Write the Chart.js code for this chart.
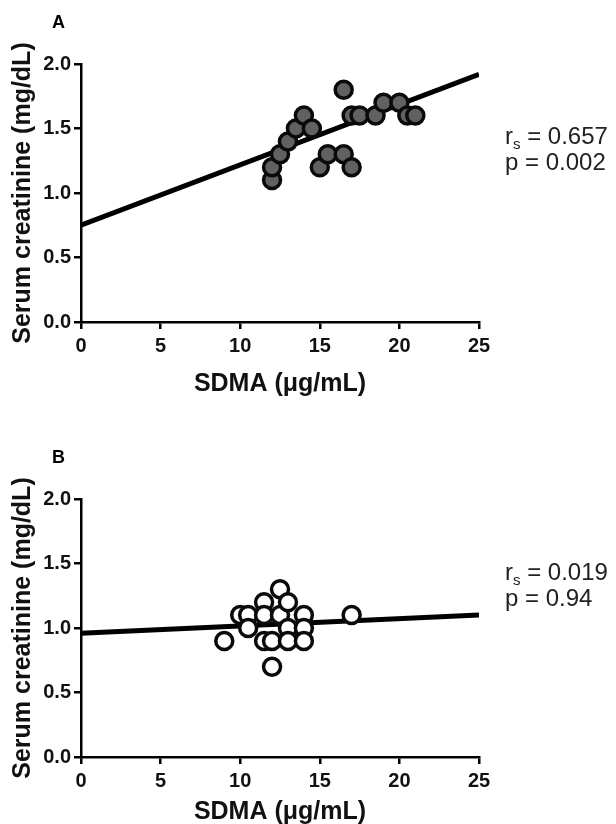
<!DOCTYPE html>
<html>
<head>
<meta charset="utf-8">
<script src="https://cdn.jsdelivr.net/npm/chart.js@4.4.0/dist/chart.umd.min.js"></script>
<style>
  body {
    margin: 0;
    background: #fff;
    width: 616px;
    height: 824px;
    position: relative;
    overflow: hidden;
    font-family: "Liberation Sans", Arial, sans-serif;
  }
  canvas { position: absolute; left: 0; }
  #chartA { top: 0; }
  #chartB { top: 412px; }
  .panel { position: absolute; left: 52px; font-size: 18px; line-height: 18px; font-weight: bold; }
  .stat { position: absolute; left: 505px; font-size: 24px; line-height: 24px; white-space: nowrap; color: #222; }
  .stat sub { font-size: 15px; line-height: 0; vertical-align: -5px; }
</style>
</head>
<body>
<canvas id="chartA" width="616" height="412"></canvas>
<canvas id="chartB" width="616" height="424"></canvas>

<div class="panel" style="top:13px">A</div>
<div class="panel" style="top:448px">B</div>

<div class="stat" style="top:124px">r<sub>s</sub> = 0.657</div>
<div class="stat" style="top:150px">p = 0.002</div>
<div class="stat" style="top:560px">r<sub>s</sub> = 0.019</div>
<div class="stat" style="top:586px">p = 0.94</div>

<script>
// panel A
const sdmaA = [12, 12, 12.5, 13, 13.5, 14, 14.5, 15, 15.5, 16.5, 16.5, 17, 17, 17.5, 18.5, 19, 20, 20.5, 21];
const creatA = [1.1, 1.2, 1.3, 1.4, 1.5, 1.6, 1.5, 1.2, 1.3, 1.3, 1.8, 1.2, 1.6, 1.6, 1.6, 1.7, 1.7, 1.6, 1.6];
const fitA = [0.75, 1.92];

// panel B
const sdmaB = [9, 10, 10.5, 10.5, 11.5, 11.5, 11.5, 12, 12, 12.5, 12.5, 13, 13, 13, 14, 14, 14, 17];
const creatB = [0.9, 1.1, 1.1, 1.0, 1.2, 1.1, 0.9, 0.9, 0.7, 1.3, 1.1, 1.2, 1.0, 0.9, 1.1, 1.0, 0.9, 1.1];
const fitB = [0.96, 1.10];

// regression line end points and tick labels
const fitX = [0, 25];
const xTickStep = 5;
const yTickStep = 0.5;

const fontFamily = '"Liberation Sans", Arial, sans-serif';

function makePlot(id, xs, ys, fit, fill, topPad, bottomPad, xHeight) {
  const points = xs.map((x, i) => ({ x: x, y: ys[i] }));
  const line = fitX.map((x, i) => ({ x: x, y: fit[i] }));

  return new Chart(document.getElementById(id), {
    type: "scatter",
    data: {
      datasets: [
        {
          data: points,
          pointRadius: 8.5,
          pointBackgroundColor: fill,
          pointBorderColor: "#0a0a0a",
          pointBorderWidth: 3.5,
          order: 0,
        },
        {
          type: "line",
          data: line,
          borderColor: "#000",
          borderWidth: 5,
          pointRadius: 0,
          order: 1,
        },
      ],
    },
    options: {
      responsive: false,
      animation: false,
      devicePixelRatio: 1,
      layout: {
        autoPadding: false,
        padding: { left: 0, top: topPad, right: 137, bottom: bottomPad },
      },
      plugins: {
        legend: { display: false },
        tooltip: { enabled: false },
      },
      scales: {
        x: {
          type: "linear",
          min: 0,
          max: 25,
          ticks: {
            stepSize: xTickStep,
            color: "#111",
            padding: 5,
            font: { family: fontFamily, size: 20, weight: "bold" },
          },
          grid: { drawOnChartArea: false, drawTicks: true, tickLength: 7, color: "#000", lineWidth: 2.5 },
          border: { color: "#000", width: 2.5 },
          title: {
            display: true,
            text: "SDMA (μg/mL)",
            color: "#111",
            padding: 0,
            font: { family: fontFamily, size: 25, weight: "bold" },
          },
          afterFit: (scale) => {
            scale.height = xHeight;
          },
        },
        y: {
          type: "linear",
          min: 0,
          max: 2,
          ticks: {
            stepSize: yTickStep,
            color: "#111",
            padding: 3,
            font: { family: fontFamily, size: 20, weight: "bold" },
            callback: (v) => v.toFixed(1),
          },
          grid: { drawOnChartArea: false, drawTicks: true, tickLength: 7, color: "#000", lineWidth: 2.5 },
          border: { color: "#000", width: 2.5 },
          title: {
            display: true,
            text: "Serum creatinine (mg/dL)",
            color: "#111",
            padding: { top: 8, bottom: 0 },
            font: { family: fontFamily, size: 25, weight: "bold" },
          },
          afterFit: (scale) => {
            scale.width = 81;
          },
        },
      },
    },
  });
}

makePlot("chartA", sdmaA, creatA, fitA, "#616161", 64, 13, 77);
makePlot("chartB", sdmaB, creatB, fitB, "#fff", 87, 9, 70);
</script>
</body>
</html>
